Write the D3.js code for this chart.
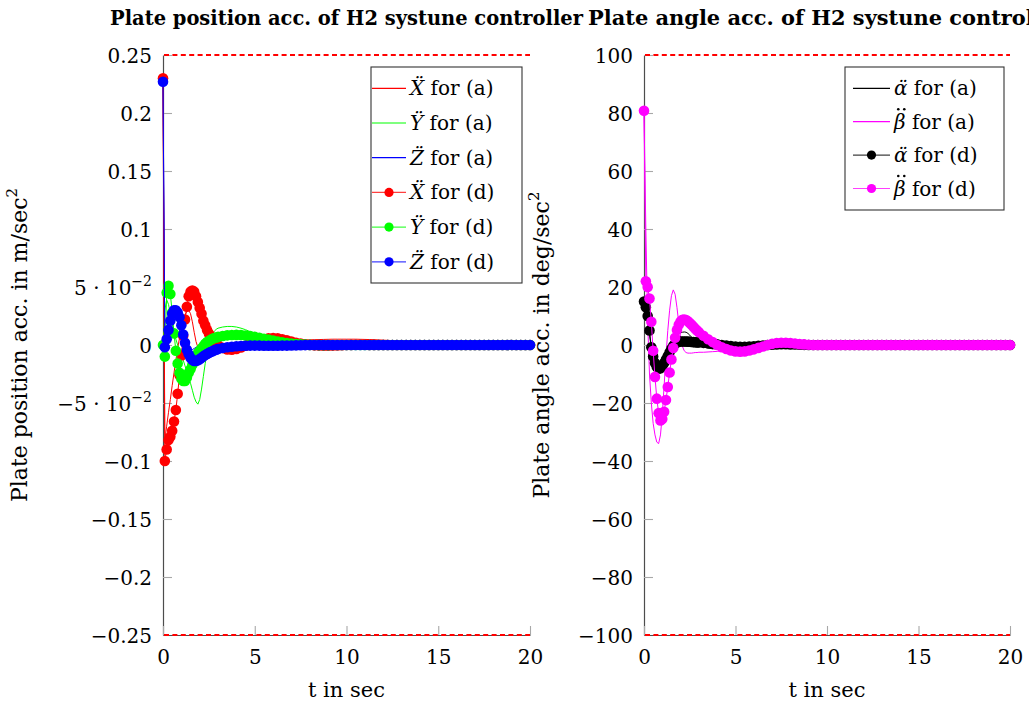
<!DOCTYPE html>
<html><head><meta charset="utf-8">
<script src="https://cdn.jsdelivr.net/npm/d3@7"></script>
<style>
body{margin:0;background:#fff}
svg{display:block}
text{font-family:"DejaVu Serif",serif;fill:#000}
</style>
</head><body>
<svg id="c" width="1029" height="703"></svg>
<script>
// ---------------- DATA ----------------
const times = [0,0.1,0.2,0.3,0.4,0.5,0.6,0.7,0.8,0.9,1,1.1,1.2,1.3,1.4,1.5,1.6,1.7,1.8,1.9,2,2.1,2.2,2.3,2.4,2.5,2.6,2.7,2.8,2.9,3,
 3.25,3.5,3.75,4, 4.25,4.5,4.75,5, 5.25,5.5,5.75,6, 6.25,6.5,6.75,7, 7.25,7.5,7.75,8, 8.25,8.5,8.75,9, 9.25,9.5,9.75,10,
 10.25,10.5,10.75,11, 11.25,11.5,11.75,12, 12.25,12.5,12.75,13, 13.25,13.5,13.75,14, 14.25,14.5,14.75,15,
 15.25,15.5,15.75,16, 16.25,16.5,16.75,17, 17.25,17.5,17.75,18, 18.25,18.5,18.75,19, 19.25,19.5,19.75,20];

// Plate position accelerations (m/sec^2), controller (a)
const posXa = [0.23,-0.082,-0.07,-0.058,-0.047,-0.035,-0.024,-0.013,-0.003,0.006,0.014,0.021,0.026,0.029,0.03,0.027,0.02,0.011,0.003,-0.002,-0.005,
 -0.0055,-0.006,-0.0062,-0.0063,-0.0063,-0.0062,-0.006,-0.0058,-0.0055,-0.0052,
 -0.0045,-0.0038,-0.003,-0.0022, -0.0015,-0.0008,-0.0002,0.0004, 0.001,0.0015,0.002,0.0024, 0.0028,0.0031,0.0034,0.0037,
 0.0039,0.0041,0.0043,0.0045, 0.0046,0.0047,0.0048,0.0049, 0.005,0.005,0.005,0.005, 0.005,0.005,0.0049,0.0048,
 0.0047,0.0046,0.0044,0.0042, 0.004,0.0038,0.0036,0.0034, 0.0032,0.003,0.0028,0.0026, 0.0024,0.0022,0.002,0.0018,
 0.0016,0.0014,0.0012,0.0011, 0.001,0.0009,0.0008,0.0007, 0.0006,0.0005,0.0004,0.0004, 0.0003,0.0003,0.0002,0.0002, 0.0001,0.0001,0.0001,0];
const posYa = [0,0.03,0.039,0.035,0.027,0.019,0.011,0.005,0,-0.005,-0.009,-0.013,-0.018,-0.023,-0.028,-0.033,-0.039,-0.045,-0.049,-0.051,-0.047,
 -0.038,-0.027,-0.016,-0.006,0.002,0.007,0.01,0.012,0.0135,0.0145,
 0.0155,0.016,0.016,0.0155, 0.0145,0.0132,0.0115,0.0098, 0.008,0.0063,0.0047,0.0033, 0.002,0.001,0.0003,-0.0002,
 -0.0005,-0.0007,-0.0008,-0.0008, -0.0007,-0.0006,-0.0004,-0.0002, 0,0.0002,0.0004,0.0005, 0.0006,0.0006,0.0006,0.0006,
 0.0005,0.0005,0.0004,0.0003, 0.0002,0.0001,0,0, 0,0,0,0, 0,0,0,0,
 0,0,0,0, 0,0,0,0, 0,0,0,0, 0,0,0,0, 0,0,0,0];
const posZa = [0.227,0,0.008,0.016,0.022,0.026,0.027,0.025,0.02,0.013,0.006,0,-0.004,-0.006,-0.006,-0.005,-0.004,-0.003,-0.002,-0.0015,-0.001,
 -0.001,-0.001,-0.001,-0.001,-0.001,-0.0008,-0.0008,-0.0006,-0.0006,-0.0005,
 -0.0004,-0.0003,-0.0002,-0.0001, 0,0,0,0, 0,0,0,0, 0,0,0,0,
 0,0,0,0, 0,0,0,0, 0,0,0,0, 0,0,0,0,
 0,0,0,0, 0,0,0,0, 0,0,0,0, 0,0,0,0,
 0,0,0,0, 0,0,0,0, 0,0,0,0, 0,0,0,0, 0,0,0,0];
// controller (d)
const posXd = [0.23,-0.1,-0.09,-0.082,-0.079,-0.074,-0.066,-0.056,-0.042,-0.026,-0.009,0.008,0.022,0.033,0.042,0.046,0.047,0.046,0.042,0.037,0.032,
 0.027,0.021,0.017,0.013,0.01,0.0075,0.005,0.003,0.0012,-0.0002,
 -0.0025,-0.0038,-0.004,-0.0035, -0.0022,-0.0007,0.001,0.0025, 0.004,0.005,0.0058,0.006, 0.0058,0.005,0.004,0.003,
 0.002,0.0012,0.0005,0, -0.0003,-0.0005,-0.0006,-0.0006, -0.0005,-0.0004,-0.0002,0, 0.0001,0.0002,0.0002,0.0002,
 0.0001,0.0001,0,0, 0,0,0,0, 0,0,0,0, 0,0,0,0,
 0,0,0,0, 0,0,0,0, 0,0,0,0, 0,0,0,0, 0,0,0,0];
const posYd = [0,-0.01,0.045,0.051,0.044,0.028,0.01,-0.005,-0.016,-0.024,-0.029,-0.031,-0.031,-0.028,-0.024,-0.021,-0.017,-0.013,-0.01,-0.007,-0.005,
 -0.003,-0.001,0.001,0.0025,0.0035,0.0045,0.0053,0.006,0.0065,0.007,
 0.0078,0.0083,0.0086,0.0087, 0.0086,0.0082,0.0077,0.007, 0.0062,0.0054,0.0046,0.0038, 0.003,0.0023,0.0017,0.0012,
 0.0008,0.0005,0.0003,0.0001, 0,-0.0001,-0.0001,-0.0001, 0,0,0,0, 0,0,0,0,
 0,0,0,0, 0,0,0,0, 0,0,0,0, 0,0,0,0,
 0,0,0,0, 0,0,0,0, 0,0,0,0, 0,0,0,0, 0,0,0,0];
const posZd = [0.227,-0.002,0.005,0.013,0.021,0.027,0.03,0.03,0.028,0.024,0.017,0.009,0.002,-0.004,-0.008,-0.011,-0.013,-0.0138,-0.0138,-0.0132,-0.0122,
 -0.011,-0.0098,-0.0087,-0.0077,-0.0068,-0.006,-0.0053,-0.0046,-0.004,-0.0035,
 -0.0026,-0.002,-0.0015,-0.0011, -0.0008,-0.0006,-0.0005,-0.0005, -0.0005,-0.0006,-0.0006,-0.0006, -0.0006,-0.0005,-0.0005,-0.0004,
 -0.0003,-0.0002,-0.0001,0, 0,0,0,0, 0,0,0,0, 0,0,0,0,
 0,0,0,0, 0,0,0,0, 0,0,0,0, 0,0,0,0,
 0,0,0,0, 0,0,0,0, 0,0,0,0, 0,0,0,0, 0,0,0,0];

// Plate angle accelerations (deg/sec^2)
const angAa = [15,12,8,3.5,-1,-4.5,-7,-8.3,-8.5,-7.8,-6.5,-5,-3.4,-1.8,-0.4,0.8,1.8,2.6,3.3,3.8,4.2,
 4.4,4.5,4.4,4,3.4,2.7,2,1.3,0.7,0.2,
 -0.6,-1.1,-1.3,-1.3, -1.1,-0.9,-0.6,-0.3, 0,0.2,0.35,0.45, 0.5,0.5,0.45,0.38,
 0.3,0.2,0.12,0.05, 0,-0.05,-0.08,-0.1, -0.1,-0.08,-0.05,-0.03, 0,0,0,0,
 0,0,0,0, 0,0,0,0, 0,0,0,0, 0,0,0,0,
 0,0,0,0, 0,0,0,0, 0,0,0,0, 0,0,0,0, 0,0,0,0];
const angBa = [80,40,8,-10,-20,-27,-31,-33.5,-34,-31,-24,-14,-4,5,12,17,19,17.5,13,7.5,2.5,
 -0.5,-2,-2.6,-2.8,-2.8,-2.8,-2.7,-2.6,-2.6,-2.5,
 -2.5,-2.4,-2.3,-2.2, -2,-1.8,-1.5,-1.2, -0.9,-0.6,-0.3,0, 0.2,0.4,0.5,0.6,
 0.6,0.6,0.5,0.4, 0.3,0.2,0.1,0, -0.05,-0.1,-0.1,-0.1, -0.05,0,0,0,
 0,0,0,0, 0,0,0,0, 0,0,0,0, 0,0,0,0,
 0,0,0,0, 0,0,0,0, 0,0,0,0, 0,0,0,0, 0,0,0,0];
const angAd = [15,13,10,5,-0.8,-4,-6.2,-7.6,-8.2,-8,-7.2,-6.2,-5,-3.8,-2.5,-1.3,-0.3,0.4,0.9,1.1,1.2,
 1.2,1.2,1.2,1.15,1.1,1.05,1,0.95,0.9,0.85,
 0.75,0.6,0.4,0.2, 0,-0.2,-0.4,-0.5, -0.6,-0.6,-0.55,-0.45, -0.3,-0.15,0,0.1,
 0.2,0.25,0.25,0.2, 0.15,0.1,0.05,0, 0,0,0,0, 0,0,0,0,
 0,0,0,0, 0,0,0,0, 0,0,0,0, 0,0,0,0,
 0,0,0,0, 0,0,0,0, 0,0,0,0, 0,0,0,0, 0,0,0,0];
const angBd = [80.8,22,20,16,8,-2,-11,-18.5,-23.5,-26,-25.5,-23,-19,-14.5,-9.5,-5,-1,2.5,5.2,7,8.1,
 8.7,8.8,8.6,8.2,7.6,7,6.3,5.6,5,4.4,
 3.2,2,1,0, -0.8,-1.4,-1.9,-2.2, -2.3,-2.2,-1.9,-1.5, -1,-0.5,0,0.4,
 0.7,0.8,0.8,0.7, 0.5,0.3,0.2,0.1, 0,0,0,0, 0,0,0,0,
 0,0,0,0, 0,0,0,0, 0,0,0,0, 0,0,0,0,
 0,0,0,0, 0,0,0,0, 0,0,0,0, 0,0,0,0, 0,0,0,0];

const xTicks = [0,5,10,15,20];
const posTicks = [-0.25,-0.2,-0.15,-0.1,-0.05,0,0.05,0.1,0.15,0.2,0.25];
const posTickLabels = [["−0.25"],["−0.2"],["−0.15"],["−0.1"],["−5 · 10","−2"],["0"],["5 · 10","−2"],["0.1"],["0.15"],["0.2"],["0.25"]];
const angTicks = [-100,-80,-60,-40,-20,0,20,40,60,80,100];
const angTickLabels = ["−100","−80","−60","−40","−20","0","20","40","60","80","100"].map(s=>[s]);
const posLimit = 0.25, angLimit = 100;

const posSeries = [
  {sym:"Ẍ", ctl:"a", vals:posXa, color:"#ff0000", mark:false},
  {sym:"Ÿ", ctl:"a", vals:posYa, color:"#00ff00", mark:false},
  {sym:"Z\u0308", ctl:"a", vals:posZa, color:"#0000ff", mark:false},
  {sym:"Ẍ", ctl:"d", vals:posXd, color:"#ff0000", mark:true},
  {sym:"Ÿ", ctl:"d", vals:posYd, color:"#00ff00", mark:true},
  {sym:"Z\u0308", ctl:"d", vals:posZd, color:"#0000ff", mark:true}
];
const angSeries = [
  {sym:"α\u0308", ctl:"a", vals:angAa, color:"#000000", mark:false},
  {sym:"β", dots:true, ctl:"a", vals:angBa, color:"#ff00ff", mark:false},
  {sym:"α\u0308", ctl:"d", vals:angAd, color:"#000000", mark:true},
  {sym:"β", dots:true, ctl:"d", vals:angBd, color:"#ff00ff", mark:true}
];

// ---------------- DRAW ----------------
const svg = d3.select("#c");
const FS = 20;

function panel(o){
  const x = d3.scaleLinear().domain([0,20]).range([o.x0,o.x1]);
  const y = d3.scaleLinear().domain([-o.lim,o.lim]).range([o.y1,o.y0]);
  const g = svg.append("g");

  // y axis
  const ya = g.append("g").attr("transform",`translate(${o.x0},0)`)
    .call(d3.axisLeft(y).tickValues(o.ticks).tickSize(-9).tickSizeOuter(0).tickPadding(11).tickFormat(()=>""));
  ya.selectAll(".tick text").each(function(d,i){
    const lab = o.labels[i];
    const t = d3.select(this).attr("font-size",FS).attr("font-family","DejaVu Serif").attr("dy","0.35em");
    t.append("tspan").text(lab[0]);
    if(lab.length>1) t.append("tspan").attr("dy",-9).attr("font-size",14).text(lab[1]);
  });
  // x axis
  const xa = g.append("g").attr("transform",`translate(0,${o.y1})`)
    .call(d3.axisBottom(x).tickValues(xTicks).tickSize(-9).tickSizeOuter(0).tickPadding(15).tickFormat(d3.format("d")));
  xa.selectAll(".tick text").attr("font-size",FS).attr("font-family","DejaVu Serif");
  [ya,xa].forEach(a=>{
    a.select(".domain").attr("stroke","#4d4d4d").attr("stroke-width",1.2);
    a.selectAll(".tick line").attr("stroke","#a8a8a8").attr("stroke-width",1.1);
  });

  // limit lines
  [o.lim,-o.lim].forEach(v=>{
    g.append("line").attr("x1",x(0)+1).attr("x2",x(20)).attr("y1",y(v)).attr("y2",y(v))
      .attr("stroke","#ff0000").attr("stroke-width",2.2).attr("stroke-dasharray","5,3.4");
  });

  // data
  const line = d3.line().x((d,i)=>x(times[i])).y(d=>y(d));
  o.series.forEach(s=>{
    g.append("path").attr("d",line(s.vals)).attr("fill","none")
      .attr("stroke",s.color).attr("stroke-width",1);
    if(s.mark){
      g.append("g").selectAll("circle").data(s.vals).join("circle")
        .attr("cx",(d,i)=>x(times[i])).attr("cy",d=>y(d)).attr("r",5.3)
        .attr("fill",s.color);
    }
  });

  // labels
  g.append("text").attr("x",(o.x0+o.x1)/2).attr("y",697).attr("text-anchor","middle")
    .attr("font-size",21).text("t in sec");
  const yl = g.append("text").attr("transform",`translate(${o.ylx},${(o.y0+o.y1)/2}) rotate(-90)`)
    .attr("text-anchor","middle").attr("font-size",22);
  yl.append("tspan").text(o.ylabel);
  yl.append("tspan").attr("dy",-10).attr("font-size",15).text("2");

  // title
  g.append("text").attr("x",(o.x0+o.x1)/2).attr("y",25).attr("text-anchor","middle")
    .attr("font-size",20).attr("font-weight","bold").text(o.title)
    .attr("textLength",o.titleW).attr("lengthAdjust","spacingAndGlyphs");

  // legend
  const L = o.legend;
  const lg = g.append("g");
  lg.append("rect").attr("x",L.x).attr("y",L.y).attr("width",L.w).attr("height",L.h)
    .attr("fill","#fff").attr("stroke","#333").attr("stroke-width",1.1);
  o.series.forEach((s,i)=>{
    const cy = L.row0 + i*L.dy;
    lg.append("line").attr("x1",L.lx0).attr("x2",L.lx1).attr("y1",cy).attr("y2",cy)
      .attr("stroke",s.color).attr("stroke-width",1.2).attr("opacity",s.mark?0.75:1);
    if(s.mark) lg.append("circle").attr("cx",(L.lx0+L.lx1)/2).attr("cy",cy).attr("r",4.6).attr("fill",s.color);
    const t = lg.append("text").attr("x",L.tx).attr("y",cy+7).attr("font-size",FS);
    const sym = t.append("tspan").attr("font-style","italic").text(s.sym);
    t.append("tspan").text(` for (${s.ctl})`);
    if(s.dots){
      // double dot over beta
      const w = sym.node().getComputedTextLength();
      const cx = L.tx + w/2 + 1.5;
      [-3,3].forEach(dx=>lg.append("circle").attr("cx",cx+dx).attr("cy",cy-12.5).attr("r",1.3).attr("fill","#000"));
    }
  });
}

panel({x0:163,x1:530,y0:55,y1:635,lim:posLimit,ticks:posTicks,labels:posTickLabels,series:posSeries,
  ylabel:"Plate position acc. in m/sec",ylx:27,
  title:"Plate position acc. of H2 systune controller",titleW:473,
  legend:{x:371,y:67,w:151,h:216,row0:88.3,dy:34.7,lx0:372,lx1:406,tx:410}});
panel({x0:644,x1:1010,y0:55,y1:635,lim:angLimit,ticks:angTicks,labels:angTickLabels,series:angSeries,
  ylabel:"Plate angle acc. in deg/sec",ylx:549,
  title:"Plate angle acc. of H2 systune controller",titleW:478,
  legend:{x:845,y:67,w:159,h:143,row0:88.3,dy:33.4,lx0:853,lx1:890,tx:894}});
</script>
</body></html>
